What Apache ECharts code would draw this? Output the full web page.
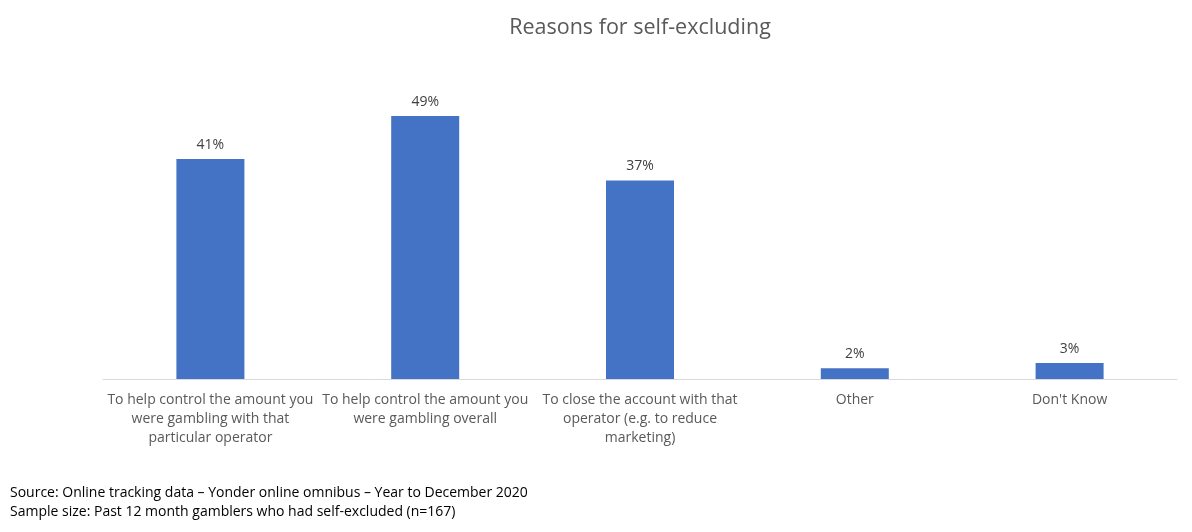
<!DOCTYPE html>
<html>
<head>
<meta charset="utf-8">
<script src="https://cdn.jsdelivr.net/npm/echarts@6/dist/echarts.min.js"></script>
<style>
html,body{margin:0;padding:0;background:#fff;}
#c{width:1192px;height:532px;}
</style>
</head>
<body>
<div id="c"></div>
<script>
const title = 'Reasons for self-excluding';
const categories = [
  'To help control the amount you\nwere gambling with that\nparticular operator',
  'To help control the amount you\nwere gambling overall',
  'To close the account with that\noperator (e.g. to reduce\nmarketing)',
  'Other',
  "Don't Know"
];
const values = [41, 49, 37, 2, 3];
const footnotes = [
  'Source: Online tracking data \u2013 Yonder online omnibus \u2013 Year to December 2020',
  'Sample size: Past 12 month gamblers who had self-excluded (n=167)'
];

const FONT = '"Open Sans", sans-serif';
const chart = echarts.init(document.getElementById('c'));
chart.setOption({
  animation: false,
  title: {
    text: title,
    left: 635, top: 12, textAlign: 'center',
    textStyle: { fontFamily: FONT, fontSize: 21.5, fontWeight: 'normal', color: '#595959' }
  },
  grid: { left: 103, right: 15, top: 57, bottom: 532 - 379 },
  xAxis: {
    type: 'category',
    data: categories,
    axisLine: { lineStyle: { color: '#d9d9d9', width: 1 } },
    axisTick: { show: false },
    axisLabel: {
      interval: 0, margin: 12, lineHeight: 19,
      fontFamily: FONT, fontSize: 14, color: '#595959'
    }
  },
  yAxis: {
    type: 'value', min: 0, max: 60,
    show: false, splitLine: { show: false }
  },
  series: [{
    type: 'bar',
    data: values,
    barWidth: 68,
    itemStyle: { color: '#4472C4' },
    label: {
      show: true, position: 'top', distance: 7,
      formatter: p => p.value + '%',
      fontFamily: FONT, fontSize: 14, color: '#404040'
    }
  }],
  graphic: footnotes.map((t, i) => ({
    type: 'text', left: 10, top: 486 + i * 19.5,
    style: { text: t, fontFamily: FONT, fontSize: 14, fill: '#000' }
  }))
});
</script>
</body>
</html>
